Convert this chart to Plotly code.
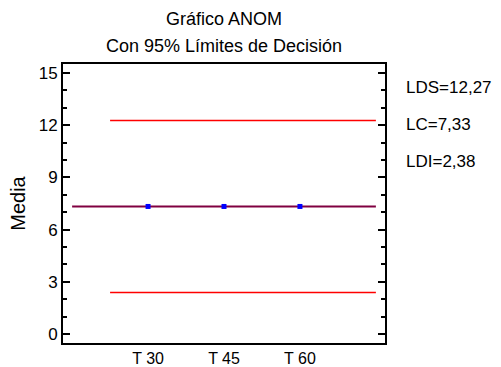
import plotly.graph_objects as go

# ANOM chart data
groups = ["T 30", "T 45", "T 60"]
group_pos = [1, 2, 3]
group_means = [7.33, 7.33, 7.33]
lds = 12.27   # upper decision limit
lc = 7.33     # centre line
ldi = 2.38    # lower decision limit
y_ticks = [0, 3, 6, 9, 12, 15]

font = "Liberation Sans, Arial, sans-serif"

fig = go.Figure()

# decision limits
for lim in (lds, ldi):
    fig.add_trace(go.Scatter(x=[0.5, 4.0], y=[lim, lim], mode="lines",
                             line=dict(color="#ff0000", width=1.5),
                             hoverinfo="skip", showlegend=False))

# centre line
fig.add_trace(go.Scatter(x=[0.0, 4.0], y=[lc, lc], mode="lines",
                         line=dict(color="#800040", width=2),
                         hoverinfo="skip", showlegend=False))

# group means
fig.add_trace(go.Scatter(x=group_pos, y=group_means, mode="markers",
                         marker=dict(symbol="square", size=5, color="#0000ff",
                                     line=dict(width=0)),
                         showlegend=False))

fmt = lambda v: f"{v:.2f}".replace(".", ",")
labels = [f"LDS={fmt(lds)}", f"LC={fmt(lc)}", f"LDI={fmt(ldi)}"]
for i, txt in enumerate(labels):
    fig.add_annotation(text=txt, xref="paper", yref="paper",
                       x=1.058, y=0.914 - i * 0.1326, xanchor="left", yanchor="middle",
                       showarrow=False, font=dict(family=font, size=17, color="black"))

fig.add_annotation(text="Gráfico ANOM", xref="paper", yref="paper",
                   x=0.5, y=1.0, yshift=45, xanchor="center", yanchor="middle",
                   showarrow=False, font=dict(family=font, size=18, color="black"))
fig.add_annotation(text="Con 95% Límites de Decisión", xref="paper", yref="paper",
                   x=0.5, y=1.0, yshift=18, xanchor="center", yanchor="middle",
                   showarrow=False, font=dict(family=font, size=18, color="black"))

fig.update_layout(
    width=501, height=367,
    margin=dict(l=63, r=116, t=64, b=24),
    paper_bgcolor="white", plot_bgcolor="white",
    font=dict(family=font, size=17, color="black"),
    xaxis=dict(range=[-0.12, 4.12], tickvals=group_pos, ticktext=groups,
               showline=True, linecolor="black", linewidth=2, mirror=True,
               ticks="", showgrid=False, zeroline=False, automargin=False,
               tickfont=dict(size=16), ticklabelstandoff=0),
    yaxis=dict(range=[-0.52, 15.52], tickvals=y_ticks, automargin=False,
               showline=True, linecolor="black", linewidth=2, mirror="ticks",
               ticks="inside", ticklen=7, tickwidth=1.5, tickcolor="black",
               minor=dict(dtick=1, ticks="inside", ticklen=4, tickwidth=1.5,
                          tickcolor="black", showgrid=False),
               showgrid=False, zeroline=False,
               title=dict(text="Media", font=dict(size=20), standoff=8),
               tickfont=dict(size=17)),
)

fig.write_html("out.html")
